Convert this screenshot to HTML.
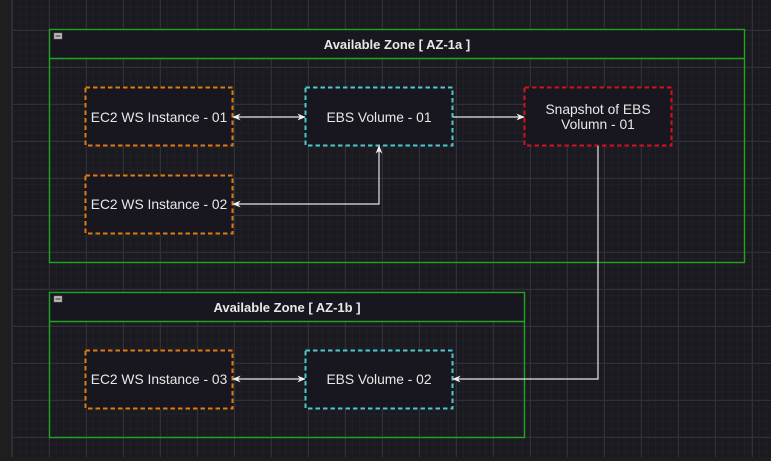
<!DOCTYPE html>
<html><head><style>
html,body{margin:0;padding:0;background:#1e1e1e;}
svg{display:block;}
text{font-family:"Liberation Sans",sans-serif;fill:#e8e8e8;font-size:13.8px;}
</style></head><body>
<svg width="771" height="461" viewBox="0 0 771 461" xmlns="http://www.w3.org/2000/svg">
<defs>
<pattern id="minor" x="12" y="0" width="7.4" height="7.4" patternUnits="userSpaceOnUse">
<path d="M7.4 0V7.4M0 7.4H7.4" stroke="#24232b" stroke-width="1" fill="none"/>
</pattern>
<pattern id="major" x="12" y="-7" width="37" height="37" patternUnits="userSpaceOnUse">
<path d="M0.5 0V37M0 0.5H37" stroke="#313038" stroke-width="1" fill="none"/>
</pattern>
<marker id="ah" viewBox="0 0 10 10" refX="9" refY="5" markerWidth="7" markerHeight="7" orient="auto-start-reverse">
<path d="M0 1L10 5L0 9L3 5Z" fill="#eeeeee"/>
</marker>
</defs>
<rect x="0" y="0" width="771" height="461" fill="#1e1e1e"/>
<rect x="12" y="0" width="759" height="457" fill="#1b1a21"/>
<rect x="12" y="0" width="759" height="457" fill="url(#minor)"/>
<rect x="12" y="0" width="759" height="457" fill="url(#major)"/>
<line x1="11.5" y1="0" x2="11.5" y2="457" stroke="#2c2b30"/>

<!-- Zone A -->
<rect x="49.5" y="29.5" width="695" height="29" fill="#18161f"/>
<rect x="49.5" y="29.5" width="695" height="233" fill="none" stroke="#1fa51f" stroke-width="1.4"/>
<line x1="49.5" y1="58.5" x2="744.5" y2="58.5" stroke="#1fa51f" stroke-width="1.4"/>
<rect x="54" y="33" width="8" height="6" fill="#bbbbbb" stroke="#777" stroke-width="0.5"/>
<line x1="55.5" y1="36" x2="60.5" y2="36" stroke="#333" stroke-width="1"/>
<text x="397" y="49" text-anchor="middle" font-weight="bold" style="font-size:13px">Available Zone [ AZ-1a ]</text>

<!-- Zone B -->
<rect x="49.5" y="292.5" width="475" height="29" fill="#18161f"/>
<rect x="49.5" y="292.5" width="475" height="145" fill="none" stroke="#1fa51f" stroke-width="1.4"/>
<line x1="49.5" y1="321.5" x2="524.5" y2="321.5" stroke="#1fa51f" stroke-width="1.4"/>
<rect x="54" y="296" width="8" height="6" fill="#bbbbbb" stroke="#777" stroke-width="0.5"/>
<line x1="55.5" y1="299" x2="60.5" y2="299" stroke="#333" stroke-width="1"/>
<text x="287" y="312" text-anchor="middle" font-weight="bold" style="font-size:13px">Available Zone [ AZ-1b ]</text>

<!-- Nodes -->
<g stroke-width="2" stroke-dasharray="4.5,3" fill="#18161f">
<rect x="85.5" y="87.5" width="147" height="58" stroke="#e07b10"/>
<rect x="305.5" y="87.5" width="147" height="58" stroke="#4cc8cc"/>
<rect x="524.5" y="87.5" width="147" height="58" stroke="#d3131b"/>
<rect x="85.5" y="175.5" width="147" height="58" stroke="#e07b10"/>
<rect x="85.5" y="350.5" width="147" height="58" stroke="#e07b10"/>
<rect x="305.5" y="350.5" width="147" height="58" stroke="#4cc8cc"/>
</g>
<text x="159" y="122" text-anchor="middle">EC2 WS Instance - 01</text>
<text x="379" y="122" text-anchor="middle">EBS Volume - 01</text>
<text x="598" y="114" text-anchor="middle">Snapshot of EBS</text>
<text x="598" y="129" text-anchor="middle">Volumn - 01</text>
<text x="159" y="209" text-anchor="middle">EC2 WS Instance - 02</text>
<text x="159" y="384" text-anchor="middle">EC2 WS Instance - 03</text>
<text x="379" y="384" text-anchor="middle">EBS Volume - 02</text>

<!-- Connectors -->
<g stroke="#e6e6e6" stroke-width="1.2" fill="none">
<line x1="233" y1="117" x2="305" y2="117" marker-start="url(#ah)" marker-end="url(#ah)"/>
<line x1="453" y1="117" x2="524" y2="117" marker-end="url(#ah)"/>
<polyline points="233,204 379,204 379,146" marker-start="url(#ah)" marker-end="url(#ah)"/>
<polyline points="598,146 598,379 453,379" marker-end="url(#ah)"/>
<line x1="233" y1="379" x2="305" y2="379" marker-start="url(#ah)" marker-end="url(#ah)"/>
</g>
</svg>
</body></html>
